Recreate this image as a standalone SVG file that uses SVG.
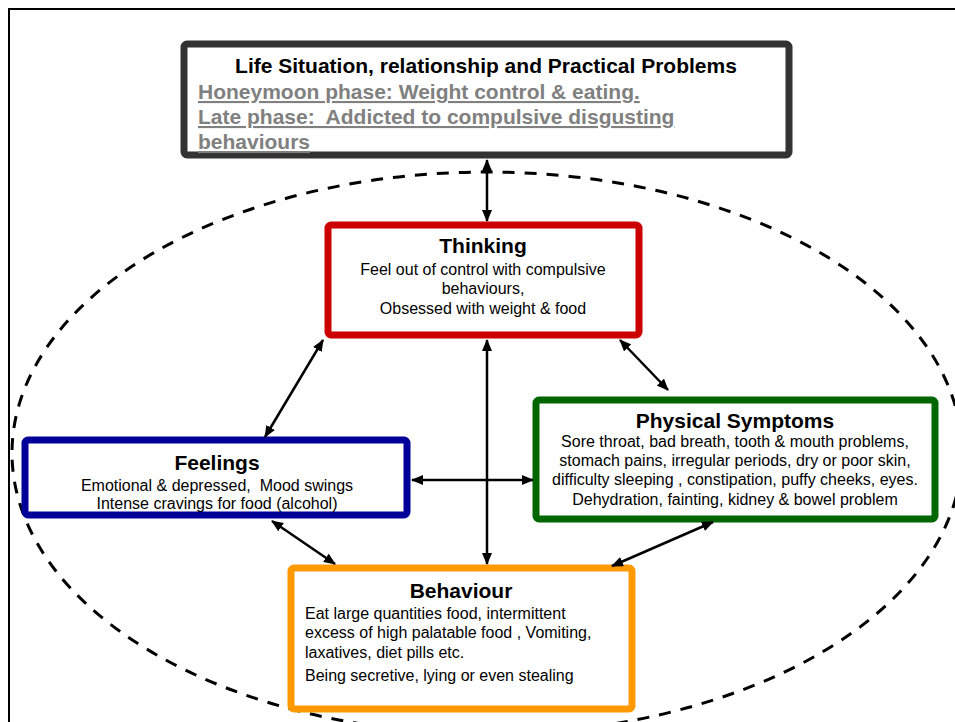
<svg xmlns="http://www.w3.org/2000/svg" width="955" height="722" viewBox="0 0 955 722">
<defs>
<marker id="ah" viewBox="0 0 12 10" refX="11" refY="5" markerWidth="12" markerHeight="10" markerUnits="userSpaceOnUse" orient="auto-start-reverse">
<path d="M0,0 L12,5 L0,10 z" fill="#000"/>
</marker>
</defs>
<style>
.box{fill:#fff;stroke-width:7;}
.t{font-family:"Liberation Sans",Arial,sans-serif;fill:#000;}
.title{font-weight:bold;font-size:21px;text-anchor:middle;}
.body{font-size:16px;}
.mid{text-anchor:middle;}
.gray{font-weight:bold;font-size:21px;fill:#808080;text-decoration:underline;}
.conn line{stroke:#000;stroke-width:2.5;marker-start:url(#ah);marker-end:url(#ah);}
</style>
<rect x="0" y="0" width="955" height="722" fill="#fff"/>
<path d="M9,722 L9,9 L955,9" fill="none" stroke="#000" stroke-width="2"/>
<ellipse cx="487" cy="453" rx="475" ry="281" fill="none" stroke="#000" stroke-width="3" stroke-dasharray="12,10"/>

<g id="life">
<rect class="box" x="184" y="44" width="605" height="111" rx="3" stroke="#333"/>
<text class="t title" x="486" y="73">Life Situation, relationship and Practical Problems</text>
<text class="t gray" x="198" y="99">Honeymoon phase: Weight control &amp; eating.</text>
<text class="t gray" x="198" y="124" xml:space="preserve">Late phase:  Addicted to compulsive disgusting</text>
<text class="t gray" x="198" y="149">behaviours</text>
</g>

<g id="thinking">
<rect class="box" x="328" y="225" width="311" height="110" rx="3" stroke="#cc0000"/>
<text class="t title" x="483" y="253">Thinking</text>
<text class="t body mid" x="483" y="275">Feel out of control with compulsive</text>
<text class="t body mid" x="483" y="294">behaviours,</text>
<text class="t body mid" x="483" y="314">Obsessed with weight &amp; food</text>
</g>

<g id="feelings">
<rect class="box" x="25" y="440" width="382" height="75" rx="3" stroke="#000099"/>
<text class="t title" x="217" y="470">Feelings</text>
<text class="t body mid" x="217" y="491" xml:space="preserve">Emotional &amp; depressed,  Mood swings</text>
<text class="t body mid" x="217" y="509">Intense cravings for food (alcohol)</text>
</g>

<g id="physical">
<rect class="box" x="536" y="400" width="399" height="119" rx="3" stroke="#006600"/>
<text class="t title" x="735" y="428">Physical Symptoms</text>
<text class="t body mid" x="735" y="447">Sore throat, bad breath, tooth &amp; mouth problems,</text>
<text class="t body mid" x="735" y="466">stomach pains, irregular periods, dry or poor skin,</text>
<text class="t body mid" x="735" y="485">difficulty sleeping , constipation, puffy cheeks, eyes.</text>
<text class="t body mid" x="735" y="505">Dehydration, fainting, kidney &amp; bowel problem</text>
</g>

<g id="behaviour">
<rect class="box" x="291" y="568" width="341" height="141" rx="3" stroke="#ff9900"/>
<text class="t title" x="461" y="598">Behaviour</text>
<text class="t body" x="305" y="619">Eat large quantities food, intermittent</text>
<text class="t body" x="305" y="638">excess of high palatable food , Vomiting,</text>
<text class="t body" x="305" y="658">laxatives, diet pills etc.</text>
<text class="t body" x="305" y="681">Being secretive, lying or even stealing</text>
</g>

<g class="conn" id="connectors">
<line x1="487" y1="160" x2="487" y2="221"/>
<line x1="323" y1="340" x2="265" y2="437"/>
<line x1="620" y1="340" x2="668" y2="390"/>
<line x1="487" y1="340" x2="487" y2="564"/>
<line x1="412" y1="480" x2="533" y2="480"/>
<line x1="272" y1="521" x2="335" y2="564"/>
<line x1="713" y1="522" x2="612" y2="566"/>
</g>
</svg>
